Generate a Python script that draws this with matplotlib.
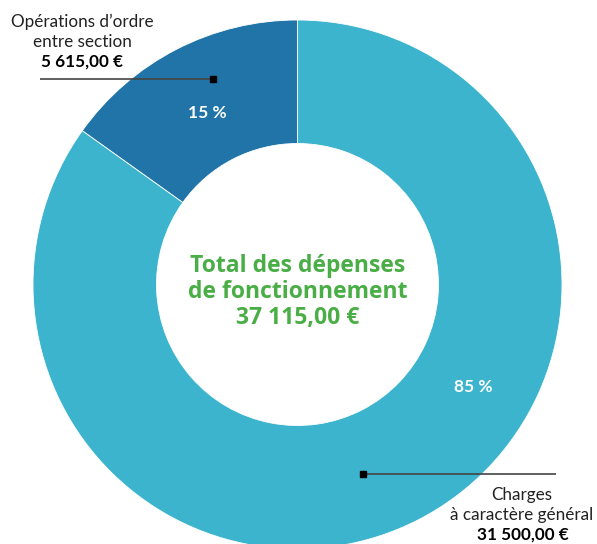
import matplotlib
matplotlib.use("Agg")
import matplotlib.pyplot as plt

# Data
categories = ["Opérations d\u2019ordre\nentre section", "Charges\nà caractère général"]
amounts = [5615.00, 31500.00]
amount_labels = ["5 615,00 \u20ac", "31 500,00 \u20ac"]
pct_labels = ["15 %", "85 %"]
total_label = "Total des dépenses\nde fonctionnement\n37 115,00 \u20ac"

colors = ["#2174a8", "#3cb4ce"]
green = "#4aae46"

W, H = 597, 544
fig = plt.figure(figsize=(W / 100, H / 100), dpi=100)
ax = fig.add_axes([0, 0, 1, 1])

def py(y):
    # pixel row (from top) -> data y
    return H - y

cx, cy, R = 297.5, py(284.5), 264.5
wedges, _ = ax.pie(amounts, colors=colors, startangle=90, counterclock=True,
                   center=(cx, cy), radius=R, frame=True,
                   wedgeprops=dict(width=R - 141, edgecolor="white", linewidth=0.6))
ax.set_xlim(0, W)
ax.set_ylim(0, H)
ax.set_aspect("equal")
ax.axis("off")

# percentages inside the ring
ax.text(207, py(113), pct_labels[0], color="white", fontsize=12.5, fontweight="bold",
        family="Lato", ha="center", va="center")
ax.text(473, py(387), pct_labels[1], color="white", fontsize=12.5, fontweight="bold",
        family="Lato", ha="center", va="center")

# center text
ax.text(cx, py(292), total_label, color=green, fontsize=16.5, fontweight="bold",
        family="Open Sans", ha="center", va="center", linespacing=1.1)

# leader lines
ax.plot([40, 213], [py(79), py(79)], color="#444444", lw=1.2, solid_capstyle="butt")
ax.plot([213], [py(79)], marker="s", ms=4, color="black")
ax.plot([363, 556], [py(474), py(474)], color="#444444", lw=1.2, solid_capstyle="butt")
ax.plot([363], [py(474)], marker="s", ms=4, color="black")

# category labels
ax.text(82, py(32), categories[0], color="#222222", fontsize=12.3, family="Lato",
        ha="center", va="center", linespacing=1.35)
ax.text(82, py(62), amount_labels[0], color="black", fontsize=12.3, fontweight="bold",
        family="Lato", ha="center", va="center")
ax.text(522, py(505), categories[1], color="#222222", fontsize=12.3, family="Lato",
        ha="center", va="center", linespacing=1.35)
ax.text(523, py(535), amount_labels[1], color="black", fontsize=12.3, fontweight="bold",
        family="Lato", ha="center", va="center")

fig.savefig("out.png", dpi=100)
